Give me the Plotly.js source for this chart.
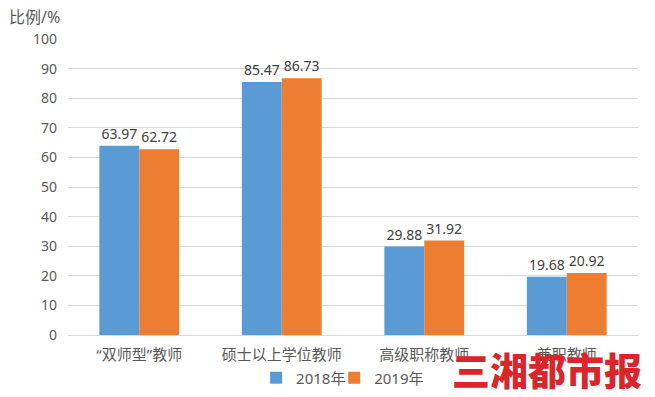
<!DOCTYPE html>
<html>
<head>
<meta charset="utf-8">
<script src="https://cdn.plot.ly/plotly-3.0.1.min.js"></script>
<style>html,body{margin:0;padding:0;background:#fff;}#chart{width:655px;height:397px;}</style>
</head>
<body>
<div id="chart"></div>
<script>
const categories = ['“双师型”教师', '硕士以上学位教师', '高级职称教师', '兼职教师'];
const series2018 = [63.97, 85.47, 29.88, 19.68];
const series2019 = [62.72, 86.73, 31.92, 20.92];
const seriesNames = ['2018年', '2019年'];
const yTicks = [0, 10, 20, 30, 40, 50, 60, 70, 80, 90, 100];

const FONT = '"Noto Sans", "Noto Sans CJK SC", sans-serif';
const CJK = '"Noto Sans CJK SC", sans-serif';
const TXT = '#595959';

const traces = [
  {type: 'bar', name: seriesNames[0], x: categories, y: series2018, legend: 'legend',
   marker: {color: '#5B9BD5'}, text: series2018.map(v => v.toFixed(2)),
   textposition: 'outside', cliponaxis: false,
   textfont: {family: FONT, size: 14, color: '#404040'}},
  {type: 'bar', name: seriesNames[1], x: categories, y: series2019, legend: 'legend2',
   marker: {color: '#ED7D31'}, text: series2019.map(v => v.toFixed(2)),
   textposition: 'outside', cliponaxis: false,
   textfont: {family: FONT, size: 14, color: '#404040'}}
];

const legendBase = {orientation: 'h', xanchor: 'left', yref: 'container', y: 0.048, yanchor: 'middle',
                    bgcolor: 'rgba(0,0,0,0)', borderwidth: 0,
                    font: {family: FONT, size: 15, color: TXT}, itemwidth: 30};

const layout = {
  width: 655, height: 397,
  margin: {l: 68, r: 17, t: 39, b: 62, autoexpand: false},
  paper_bgcolor: '#fff', plot_bgcolor: '#fff',
  font: {family: FONT, size: 14, color: TXT},
  barmode: 'group', bargap: 0.44, bargroupgap: 0,
  showlegend: true,
  legend: Object.assign({}, legendBase, {x: 0.33}),
  legend2: Object.assign({}, legendBase, {x: 0.467}),
  xaxis: {type: 'category', showgrid: false, showline: true, linecolor: '#D9D9D9', linewidth: 1,
          ticks: '', tickfont: {family: FONT, size: 15, color: TXT}, ticklabelstandoff: 6,
          zeroline: false, fixedrange: true, automargin: false},
  yaxis: {range: [0, 100], tickvals: yTicks, showgrid: true, gridcolor: '#D9D9D9', gridwidth: 1,
          zeroline: false, showline: false, ticks: '', ticklabelstandoff: 10, automargin: false,
          tickfont: {family: FONT, size: 14, color: TXT}, fixedrange: true},
  annotations: [
    {text: '比例/%', xref: 'paper', yref: 'paper', x: -0.107, y: 1.075, xanchor: 'left', yanchor: 'middle',
     showarrow: false, font: {family: FONT, size: 16, color: TXT}},
    {text: '三湘都市报', xref: 'paper', yref: 'paper', x: 0.841, y: -0.112, xanchor: 'center', yanchor: 'middle',
     showarrow: false, font: {family: CJK, size: 38, color: '#D9262B', weight: 900}}
  ]
};

Plotly.newPlot('chart', traces, layout, {displayModeBar: false, staticPlot: true});
</script>
</body>
</html>
